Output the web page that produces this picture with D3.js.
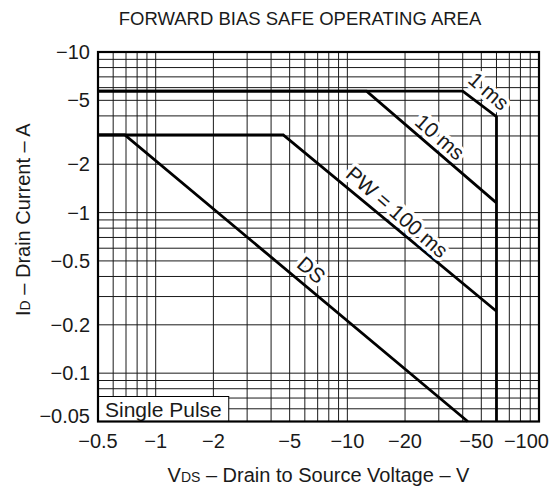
<!DOCTYPE html>
<html><head><meta charset="utf-8">
<script src="https://cdn.jsdelivr.net/npm/d3@7"></script>
<style>
body{margin:0;background:#fff}
text{font-family:"Liberation Sans",Arial,Helvetica,sans-serif;fill:#1a1a1a}
</style>
</head><body><svg id="c" width="555" height="490"></svg>
<script>
// ---- data (magnitudes; labels carry the minus sign) ----
const xTickValues = [0.5, 1, 2, 5, 10, 20, 50, 100];
const xTickLabels = ["−0.5", "−1", "−2", "−5", "−10", "−20", "−50", "−100"];
const yTickValues = [10, 5, 2, 1, 0.5, 0.2, 0.1, 0.05];
const yTickLabels = ["−10", "−5", "−2", "−1", "−0.5", "−0.2", "−0.1", "−0.05"];
const xGrid = [0.5, 0.6, 0.7, 0.8, 0.9, 1, 2, 3, 4, 5, 6, 7, 8, 9, 10, 20, 30, 40, 50, 60, 70, 80, 90, 100];
const yGrid = [0.05, 0.06, 0.07, 0.08, 0.09, 0.1, 0.2, 0.3, 0.4, 0.5, 0.6, 0.7, 0.8, 0.9, 1, 2, 3, 4, 5, 6, 7, 8, 9, 10];

// SOA boundaries: |VDS| (V) vs |ID| (A)
const dcV    = [0.5, 0.69, 42.5];
const dcI    = [3.05, 3.05, 0.05];
const pw100V = [0.5, 4.63, 60];
const pw100I = [3.05, 3.05, 0.243];
const pw10V  = [0.5, 12.6, 60];
const pw10I  = [5.7, 5.7, 1.15];
const pw1V   = [0.5, 40, 60, 60];
const pw1I   = [5.7, 5.7, 3.96, 0.05];

const curveLabels = ["DS", "PW = 100 ms", "10 ms", "1 ms"];
const labelV = [6.5, 18.2, 30.4, 54.8];
const labelI = [0.44, 1.01, 2.96, 5.72];

const titleText = "FORWARD BIAS SAFE OPERATING AREA";
const noteText = "Single Pulse";

// ---- layout ----
const W = 555, H = 490;
const m = {left: 98, right: 16, top: 52, bottom: 68.5};
const svg = d3.select("#c");
const x = d3.scaleLog().domain([0.5, 100]).range([m.left, W - m.right]);
const y = d3.scaleLog().domain([0.05, 10]).range([H - m.bottom, m.top]);
const x0 = x.range()[0], x1 = x.range()[1], y0 = y.range()[0], y1 = y.range()[1];

// grid
const g = svg.append("g");
g.selectAll("line.vx").data(xGrid).join("line")
  .attr("x1", d => x(d)).attr("x2", d => x(d)).attr("y1", y1).attr("y2", y0)
  .attr("stroke", "#1a1a1a").attr("stroke-width", 1);
g.selectAll("line.hy").data(yGrid).join("line")
  .attr("y1", d => y(d)).attr("y2", d => y(d)).attr("x1", x0).attr("x2", x1)
  .attr("stroke", "#1a1a1a").attr("stroke-width", 1);

// curves
const line = d3.line().x(d => x(d[0])).y(d => y(d[1]));
const curves = [[dcV, dcI], [pw100V, pw100I], [pw10V, pw10I], [pw1V, pw1I]];
curves.forEach(([vs, is]) => {
  svg.append("path").datum(vs.map((v, i) => [v, is[i]]))
    .attr("d", line).attr("fill", "none").attr("stroke", "#000")
    .attr("stroke-width", 2.8).attr("stroke-linejoin", "miter");
});

// curve labels
curveLabels.forEach((t, i) => {
  svg.append("text")
    .attr("transform", `translate(${x(labelV[i])},${y(labelI[i])}) rotate(41)`)
    .attr("text-anchor", "middle").attr("dominant-baseline", "central")
    .attr("font-size", 21)
    .attr("stroke", "#fff").attr("stroke-width", 7).attr("paint-order", "stroke")
    .attr("stroke-linejoin", "round")
    .text(t);
});

// Single Pulse note
const note = svg.append("text").attr("x", x0 + 7).attr("y", y0 - 5)
  .attr("font-size", 21).text(noteText);
const nb = note.node().getBBox();
svg.insert("rect", "text:last-of-type")
  .attr("x", x0).attr("y", nb.y - 1).attr("width", nb.x + nb.width + 7 - x0).attr("height", y0 - nb.y + 1)
  .attr("fill", "#fff").attr("stroke", "#000").attr("stroke-width", 1);

// frame
svg.append("rect").attr("x", x0).attr("y", y1).attr("width", x1 - x0).attr("height", y0 - y1)
  .attr("fill", "none").attr("stroke", "#000").attr("stroke-width", 2.2);

// x tick labels
xTickValues.forEach((v, i) => {
  const last = i === xTickValues.length - 1;
  svg.append("text")
    .attr("x", last ? W - 6 : x(v) - (i === xTickValues.length - 2 ? 5 : 0))
    .attr("y", y0 + 26)
    .attr("text-anchor", last ? "end" : "middle")
    .attr("font-size", 20).text(xTickLabels[i]);
});
// y tick labels
yTickValues.forEach((v, i) => {
  const last = i === yTickValues.length - 1;
  svg.append("text")
    .attr("x", x0 - 8).attr("y", y(v) - (last ? 6 : 0))
    .attr("text-anchor", "end").attr("dominant-baseline", "central")
    .attr("font-size", 20).text(yTickLabels[i]);
});

// title
svg.append("text").attr("x", 300).attr("y", 25).attr("text-anchor", "middle")
  .attr("font-size", 18.5).text(titleText);

// x axis title
const xt = svg.append("text").attr("x", (x0 + x1) / 2).attr("y", 482).attr("text-anchor", "middle").attr("font-size", 20);
xt.append("tspan").text("V");
xt.append("tspan").attr("font-size", 14).text("DS");
xt.append("tspan").text(" – Drain to Source Voltage – V");

// y axis title
const yt = svg.append("text").attr("transform", `translate(30,${(y0 + y1) / 2 - 17}) rotate(-90)`)
  .attr("text-anchor", "middle").attr("font-size", 20);
yt.append("tspan").text("I");
yt.append("tspan").attr("font-size", 14).text("D");
yt.append("tspan").text(" – Drain Current – A");
</script>
</body></html>
